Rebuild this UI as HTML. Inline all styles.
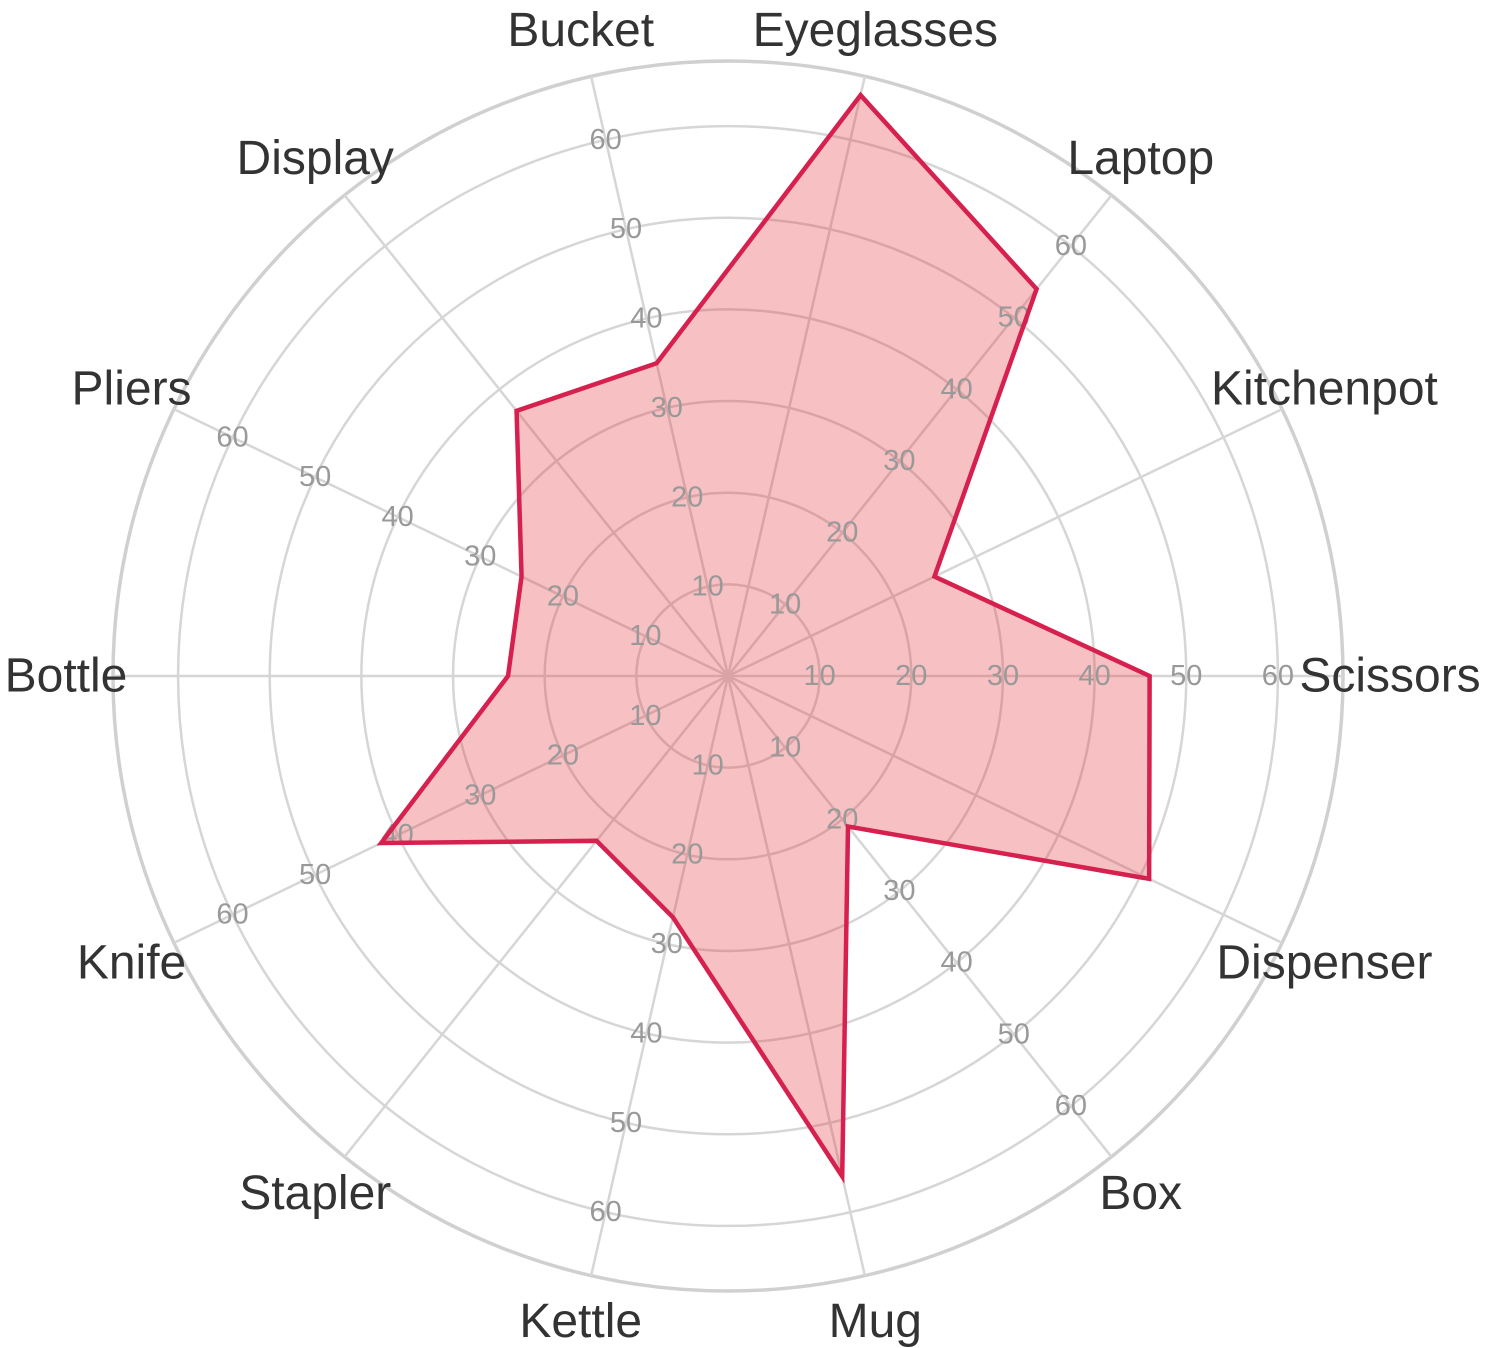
<!DOCTYPE html>
<html><head><meta charset="utf-8"><style>
html,body{margin:0;padding:0;background:#fff;}
svg{display:block;font-family:"Liberation Sans",sans-serif;}
</style></head><body>
<svg id="chart" width="1495" height="1348" viewBox="0 0 1495 1348" xmlns="http://www.w3.org/2000/svg"></svg>
<script>
const categories = ["Scissors","Kitchenpot","Laptop","Eyeglasses","Bucket","Display","Pliers","Bottle","Knife","Stapler","Kettle","Mug","Box","Dispenser"];
const values = [46,25,54,65,35,37,25,24,42,23,27,56,21,51];
const tickValues = [10,20,30,40,50,60];
const tickLabels = ["10","20","30","40","50","60"];
const rMax = 67.1;

const cx = 728, cy = 676, R = 615, labelR = 662;
const NS = "http://www.w3.org/2000/svg";
const svg = document.getElementById('chart');
function rScale(v){ return v / rMax * R; }
function ang(i){ return i * 2 * Math.PI / categories.length; }
function pt(i, v){ const a = ang(i), r = rScale(v); return [cx + r*Math.cos(a), cy - r*Math.sin(a)]; }
function mk(tag, attrs){ const e = document.createElementNS(NS, tag); for (const k in attrs) e.setAttribute(k, attrs[k]); svg.appendChild(e); return e; }

tickValues.forEach(function(t){
  const c = mk('circle', {cx:cx, cy:cy, r:rScale(t), fill:'none', stroke:'#d6d6d6', 'stroke-width':2.5});
  
  
});
const outer = mk('circle', {cx:cx, cy:cy, r:R, fill:'none', stroke:'#d0d0d0', 'stroke-width':3.5});



categories.forEach(function(c, i){
  const p = pt(i, rMax);
  const l = mk('line', {x1:cx, y1:cy, x2:p[0], y2:p[1], stroke:'#d6d6d6', 'stroke-width':2.5});
  
  
});

const pts = values.map(function(v, i){ return pt(i, v).join(','); }).join(' ');
const poly = mk('polygon', {points:pts, fill:'rgba(228,40,48,0.29)', stroke:'none'});



categories.forEach(function(c, i){
  if (i % 2 !== 0) return;
  tickValues.forEach(function(t, k){
    const p = pt(i, t);
    const tx = mk('text', {x:p[0], y:p[1], fill:'#999', 'font-size':29, 'text-anchor':'middle', 'dominant-baseline':'central'});
    tx.textContent = tickLabels[k];
    
    
  });
});

const line = mk('polygon', {points:pts, fill:'none', stroke:'#d6204e', 'stroke-width':4.5, 'stroke-linejoin':'miter'});



categories.forEach(function(c, i){
  const a = ang(i);
  const x = cx + labelR*Math.cos(a), y = cy - labelR*Math.sin(a);
  const tx = mk('text', {x:x, y:y, fill:'#333', 'font-size':48, 'text-anchor':'middle', 'dominant-baseline':'central'});
  tx.textContent = c;
  
  
});
</script>
</body></html>
